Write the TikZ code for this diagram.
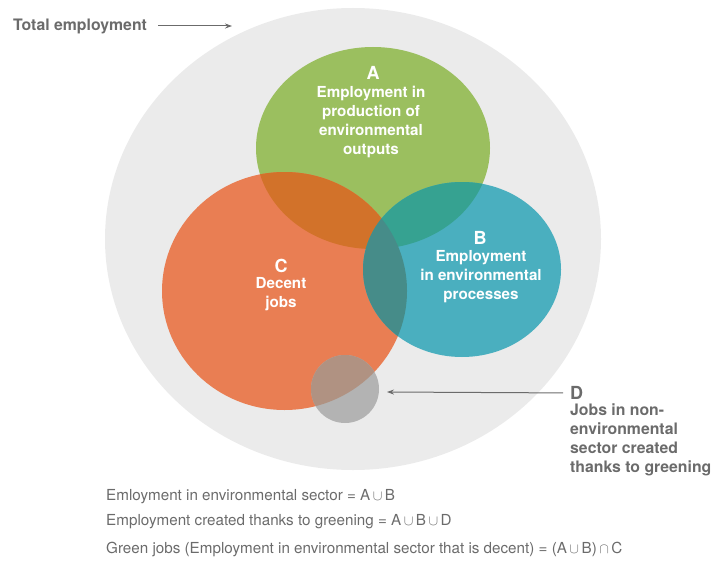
\documentclass[tikz,border=0pt]{standalone}
\usepackage{fontspec}
\setmainfont{TeX Gyre Heros}
\usetikzlibrary{arrows.meta}

\definecolor{totalgrey}{HTML}{EBEBEB}
\definecolor{setA}{HTML}{9BBF5F}
\definecolor{setB}{HTML}{4AAFBF}
\definecolor{setC}{HTML}{E97E53}
\definecolor{setD}{HTML}{B3B3B3}
\definecolor{setAC}{HTML}{D2722A}
\definecolor{setAB}{HTML}{36A291}
\definecolor{setBC}{HTML}{468C89}
\definecolor{setCD}{HTML}{B09282}
\definecolor{labelgrey}{HTML}{6B6B6B}

\tikzset{
	setletter/.style={text=white,inner sep=0pt,font=\bfseries\fontsize{18}{19}\selectfont},
	settext/.style={text=white,inner sep=0pt,align=center,font=\bfseries\fontsize{15.2}{19}\selectfont},
	sidetext/.style={text=labelgrey,inner sep=0pt,align=left,font=\bfseries\fontsize{15.8}{19}\selectfont},
	formula/.style={text=labelgrey,inner sep=0pt,anchor=west,font=\fontsize{15.2}{19}\selectfont},
	pointer/.style={draw=labelgrey,line width=1pt,-{Stealth[length=7pt,width=5pt]}}
}

\begin{document}
\begin{tikzpicture}[x=1pt,y=-1pt]
	\useasboundingbox (0,0) rectangle (711,564);

	% outer set and the four circles
	\fill[totalgrey] (353,239) ellipse [x radius=248, y radius=231];
	\fill[setA] (373,148) ellipse [x radius=117, y radius=101];
	\fill[setC] (284.5,291) ellipse [x radius=122.5, y radius=119];
	\fill[setB] (462,269.5) ellipse [x radius=99, y radius=87.5];

	% overlaps
	\begin{scope}
		\clip (373,148) ellipse [x radius=117, y radius=101];
		\fill[setAC] (284.5,291) ellipse [x radius=122.5, y radius=119];
		\fill[setAB] (462,269.5) ellipse [x radius=99, y radius=87.5];
	\end{scope}
	\begin{scope}
		\clip (284.5,291) ellipse [x radius=122.5, y radius=119];
		\fill[setBC] (462,269.5) ellipse [x radius=99, y radius=87.5];
	\end{scope}
	\fill[setD] (345,389) circle [radius=34];
	\begin{scope}
		\clip (284.5,291) ellipse [x radius=122.5, y radius=119];
		\fill[setCD] (345,389) circle [radius=34];
	\end{scope}

	% set labels
	\node at (373,73)    [setletter] (letter_a) {A};
	\node at (371,121.5) [settext]   (text_a)   {Employment in\\production of\\environmental\\outputs};
	\node at (480,238)   [setletter] (letter_b) {B};
	\node at (481,277)   [settext]   (text_b)   {Employment\\in environmental\\processes};
	\node at (281,266)   [setletter] (letter_c) {C};
	\node at (281,294.5) [settext]   (text_c)   {Decent\\jobs};

	% side labels
	\node at (13,26)  [sidetext,anchor=west] (total)    {Total employment};
	\node at (570,393) [sidetext,anchor=west,font=\bfseries\fontsize{18}{19}\selectfont] (letter_d) {D};
	\node at (570,439.5) [sidetext,anchor=west] (text_d) {Jobs in non-\\environmental\\sector created\\thanks to greening};

	\coordinate (total_tip) at (232,26);
	\coordinate (d_tip)     at (387,392);

	\draw[pointer] (total)    edge[shorten <=11pt] (total_tip);
	\draw[pointer] (letter_d) edge[shorten <=7pt]  (d_tip);

	% formulas below
	\node at (106,497) [formula] (sector)   {Emloyment in environmental sector = A\,$\cup$\,B};
	\node at (106,522) [formula] (greening) {Employment created thanks to greening = A\,$\cup$\,B\,$\cup$\,D};
	\node at (106,549) [formula] (green)    {Green jobs (Employment in environmental sector that is decent) = (A\,$\cup$\,B)\,$\cap$\,C};
\end{tikzpicture}
\end{document}
